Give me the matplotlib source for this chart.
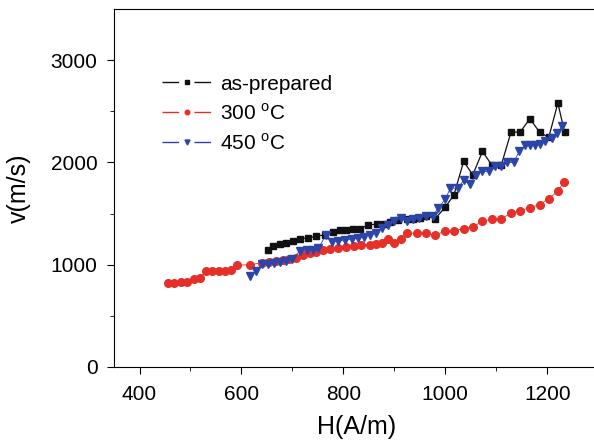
import matplotlib.pyplot as plt
from matplotlib.legend_handler import HandlerLine2D

plt.rcParams['font.family'] = ['Liberation Sans', 'DejaVu Sans']
plt.rcParams['mathtext.fontset'] = 'custom'
plt.rcParams['mathtext.rm'] = 'Liberation Sans'

# as-prepared
h_asprep = [652, 662, 675, 688, 701, 715, 731, 747, 764, 780, 793, 806, 819, 833, 849,
            866, 880, 892, 908, 924, 937, 950, 962, 980, 1000, 1017, 1036, 1054, 1073,
            1091, 1110, 1129, 1147, 1166, 1185, 1203, 1221, 1234]
v_asprep = [1144, 1180, 1200, 1215, 1235, 1255, 1260, 1280, 1290, 1320, 1335, 1340, 1345,
            1350, 1390, 1395, 1400, 1420, 1435, 1445, 1448, 1460, 1480, 1448, 1563, 1683,
            2010, 1879, 2108, 1977, 1977, 2298, 2298, 2428, 2298, 2245, 2582, 2298]

# 300 C
h_300 = [455, 468, 481, 493, 506, 518, 531, 543, 555, 567, 579, 591, 616, 641, 655, 668,
         681, 694, 707, 721, 734, 747, 760, 774, 790, 806, 820, 835, 852, 864, 875, 888,
         900, 913, 924, 944, 962, 980, 1000, 1017, 1036, 1054, 1073, 1091, 1110, 1129,
         1147, 1166, 1185, 1203, 1221, 1233]
v_300 = [823, 823, 833, 833, 857, 866, 938, 938, 938, 938, 948, 997, 997, 1020, 1030, 1040,
         1046, 1052, 1063, 1095, 1110, 1127, 1140, 1151, 1160, 1176, 1185, 1193, 1193, 1200,
         1216, 1249, 1216, 1249, 1308, 1308, 1308, 1288, 1330, 1330, 1353, 1373, 1422,
         1448, 1448, 1504, 1527, 1559, 1585, 1647, 1719, 1811]

# 450 C
h_450 = [616, 628, 641, 652, 664, 676, 688, 700, 715, 728, 741, 751, 766, 777, 790, 803,
         816, 829, 840, 852, 864, 875, 888, 900, 913, 924, 937, 949, 962, 975, 986, 1000,
         1010, 1024, 1036, 1048, 1061, 1073, 1085, 1098, 1110, 1122, 1134, 1145, 1157,
         1166, 1176, 1186, 1196, 1209, 1220, 1229]
v_450 = [889, 941, 1006, 1010, 1020, 1030, 1040, 1050, 1137, 1140, 1145, 1160, 1291, 1226,
         1235, 1240, 1250, 1260, 1270, 1291, 1314, 1357, 1389, 1422, 1455, 1422, 1445, 1455,
         1477, 1471, 1553, 1641, 1748, 1748, 1824, 1788, 1879, 1912, 1912, 1961, 1961, 2000,
         2000, 2108, 2167, 2167, 2167, 2180, 2206, 2239, 2288, 2353]

fig = plt.figure(figsize=(5.94, 4.45), dpi=100)
ax = fig.add_axes([0.192, 0.176, 0.815, 0.803])

ax.plot(h_asprep, v_asprep, '-s', color='#111111', ms=5, lw=0.9, label='as-prepared')
ax.plot(h_300, v_300, '-o', color='#e5302a', ms=5.5, lw=0.6, label='300 $^\\mathrm{o}$C')
ax.plot(h_450, v_450, '-v', color='#2b45a8', ms=6, lw=0.6, label='450 $^\\mathrm{o}$C')

ax.set_xlim(350, 1300)
ax.set_ylim(0, 3500)
ax.set_xticks([400, 600, 800, 1000, 1200])
ax.set_yticks([0, 1000, 2000, 3000])
ax.set_xticks(range(500, 1300, 200), minor=True)
ax.set_yticks([500, 1500, 2500], minor=True)
ax.tick_params(which='both', direction='out', labelsize=15, top=False, right=False)
ax.tick_params(which='major', length=5)
ax.tick_params(which='minor', length=3)
ax.tick_params(axis='x', which='major', pad=8)
ax.tick_params(axis='y', which='major', pad=7)

ax.set_xlabel('H(A/m)', fontsize=18, labelpad=8)
ax.set_ylabel('v(m/s)', fontsize=18, labelpad=14)


# legend line broken around the marker, Origin style
def gap_line(legline, orig):
    legline.update_from(orig)
    legline.set_linewidth(1.0)
    legline.set_linestyle((0, (12, 11, 12)))


ax.legend(loc='upper left', bbox_to_anchor=(0.06, 0.87), frameon=False, fontsize=15,
          markerscale=0.6, handlelength=2.4, handletextpad=0.4, labelspacing=0.45,
          handler_map={ln: HandlerLine2D(update_func=gap_line) for ln in ax.get_lines()})

fig.savefig('out.png', dpi=100)
